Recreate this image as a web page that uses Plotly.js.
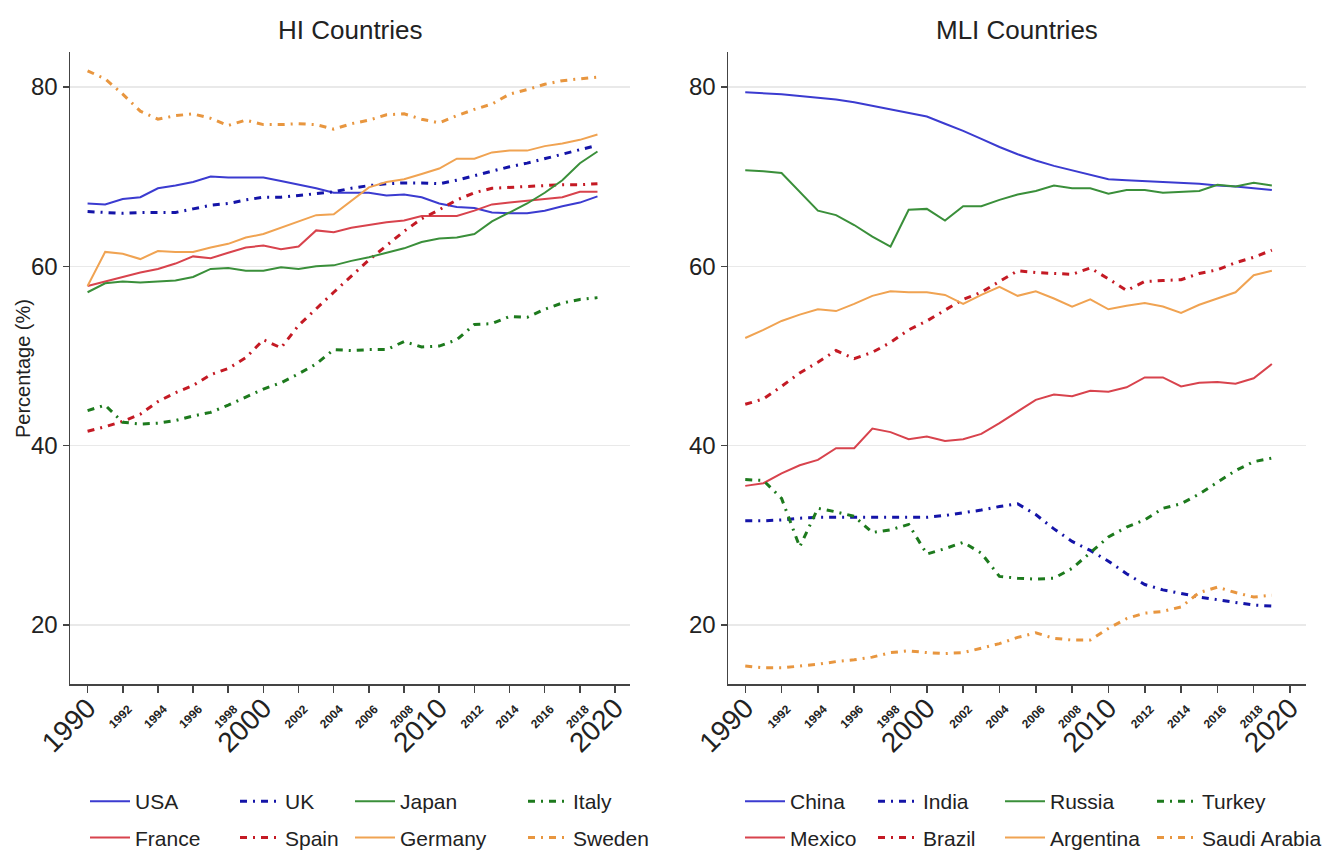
<!DOCTYPE html>
<html>
<head>
<meta charset="utf-8">
<script src="https://cdn.plot.ly/plotly-3.0.1.min.js"></script>
<style>html,body{margin:0;padding:0;background:#fff;}#chart{width:1324px;height:850px;}</style>
</head>
<body>
<div id="chart"></div>
<script>
// ---------- data ----------
const years = [1990,1991,1992,1993,1994,1995,1996,1997,1998,1999,2000,2001,2002,2003,2004,2005,2006,2007,2008,2009,2010,2011,2012,2013,2014,2015,2016,2017,2018,2019];

// HI countries
const usa     = [67.0,66.9,67.5,67.7,68.7,69.0,69.4,70.0,69.9,69.9,69.9,69.5,69.1,68.7,68.2,68.2,68.2,67.9,68.0,67.7,67.0,66.6,66.5,66.0,65.9,65.9,66.2,66.7,67.1,67.8];
const uk      = [66.1,66.0,65.9,66.0,66.0,66.0,66.4,66.8,67.0,67.4,67.7,67.7,67.9,68.1,68.3,68.7,69.0,69.2,69.3,69.3,69.2,69.6,70.1,70.6,71.1,71.5,72.0,72.5,73.0,73.5];
const japan   = [57.1,58.1,58.3,58.2,58.3,58.4,58.8,59.7,59.8,59.5,59.5,59.9,59.7,60.0,60.1,60.6,61.0,61.5,62.0,62.7,63.1,63.2,63.6,65.0,66.0,67.0,68.2,69.6,71.5,72.8];
const italy   = [43.9,44.5,42.6,42.4,42.5,42.8,43.3,43.7,44.5,45.4,46.3,47.0,48.0,49.1,50.7,50.6,50.7,50.7,51.6,51.0,51.1,51.8,53.5,53.6,54.4,54.3,55.2,55.9,56.3,56.5];
const france  = [57.8,58.3,58.8,59.3,59.7,60.3,61.1,60.9,61.5,62.1,62.3,61.9,62.2,64.0,63.8,64.3,64.6,64.9,65.1,65.6,65.6,65.6,66.2,66.9,67.1,67.3,67.5,67.7,68.3,68.3];
const spain   = [41.6,42.1,42.7,43.5,44.9,45.9,46.7,47.9,48.6,49.8,51.8,50.9,53.4,55.3,57.1,58.9,60.7,62.3,63.9,65.3,66.3,67.4,68.2,68.7,68.8,68.9,69.0,69.1,69.1,69.2];
const germany = [57.8,61.6,61.4,60.8,61.7,61.6,61.6,62.1,62.5,63.2,63.6,64.3,65.0,65.7,65.8,67.3,68.8,69.4,69.7,70.3,70.9,72.0,72.0,72.7,72.9,72.9,73.4,73.7,74.1,74.7];
const sweden  = [81.8,80.9,79.2,77.3,76.4,76.8,77.0,76.5,75.7,76.3,75.8,75.8,75.9,75.8,75.3,75.9,76.3,76.9,77.0,76.4,76.0,76.8,77.5,78.1,79.2,79.7,80.3,80.7,80.9,81.1];

// MLI countries
const china     = [79.4,79.3,79.2,79.0,78.8,78.6,78.3,77.9,77.5,77.1,76.7,75.9,75.1,74.2,73.3,72.5,71.8,71.2,70.7,70.2,69.7,69.6,69.5,69.4,69.3,69.2,69.0,68.9,68.7,68.5];
const india     = [31.6,31.6,31.7,31.9,32.0,32.0,32.0,32.0,32.0,32.0,32.0,32.2,32.5,32.8,33.2,33.5,32.3,30.7,29.3,28.3,27.1,25.7,24.5,23.9,23.5,23.1,22.8,22.5,22.2,22.1];
const russia    = [70.7,70.6,70.4,68.3,66.2,65.7,64.6,63.3,62.2,66.3,66.4,65.1,66.7,66.7,67.4,68.0,68.4,69.0,68.7,68.7,68.1,68.5,68.5,68.2,68.3,68.4,69.1,68.9,69.3,69.0];
const turkey    = [36.2,36.1,34.1,28.7,33.0,32.6,32.1,30.3,30.6,31.2,27.9,28.5,29.2,28.0,25.4,25.2,25.1,25.2,26.3,28.0,29.8,30.9,31.7,33.0,33.5,34.6,35.9,37.2,38.2,38.6];
const mexico    = [35.5,35.8,36.9,37.8,38.4,39.7,39.7,41.9,41.5,40.7,41.0,40.5,40.7,41.3,42.5,43.8,45.1,45.7,45.5,46.1,46.0,46.5,47.6,47.6,46.6,47.0,47.1,46.9,47.5,49.1];
const brazil    = [44.6,45.2,46.6,48.1,49.3,50.6,49.7,50.4,51.5,52.9,53.9,55.1,56.3,57.1,58.3,59.5,59.3,59.2,59.1,59.8,58.6,57.3,58.3,58.4,58.5,59.2,59.6,60.4,61.0,61.8];
const argentina = [52.0,52.9,53.9,54.6,55.2,55.0,55.8,56.7,57.2,57.1,57.1,56.8,55.8,56.8,57.7,56.7,57.2,56.4,55.5,56.3,55.2,55.6,55.9,55.5,54.8,55.7,56.4,57.1,59.0,59.5];
const saudi     = [15.4,15.2,15.2,15.4,15.6,15.9,16.1,16.4,16.9,17.1,16.9,16.8,16.9,17.4,17.9,18.6,19.1,18.5,18.3,18.3,19.6,20.7,21.3,21.5,22.0,23.6,24.2,23.6,23.1,23.3];

const xTickVals = [1990,1992,1994,1996,1998,2000,2002,2004,2006,2008,2010,2012,2014,2016,2018,2020];
const yTickVals = [20,40,60,80];
const titles = ['HI Countries','MLI Countries'];
const yTitle = 'Percentage (%)';

// ---------- styling ----------
const FONT = 'Liberation Sans, Arial, sans-serif';
const DASHDOT = '7px,6px,2px,6px';
const C = {
  blue:'#3b3bd0', navy:'#1414a8', green:'#3a8f3a', dgreen:'#1d7a1d',
  red:'#d8434d', dred:'#c41a24', orange:'#f0a352', dorange:'#e8963f'
};

function tr(name, y, axis, color, dashed, legendId, group){
  return {
    x: years, y: y, name: name, type:'scatter', mode:'lines',
    xaxis: axis[0], yaxis: axis[1],
    line: {color: color, width: dashed ? 3 : 2, dash: dashed ? DASHDOT : 'solid'},
    legend: legendId, legendgroup: group
  };
}
const L = ['x','y'], R = ['x2','y2'];
const data = [
  tr('USA', usa, L, C.blue, false, 'legend', 'a1'),
  tr('France', france, L, C.red, false, 'legend', 'a2'),
  tr('UK', uk, L, C.navy, true, 'legend2', 'b1'),
  tr('Spain', spain, L, C.dred, true, 'legend2', 'b2'),
  tr('Japan', japan, L, C.green, false, 'legend3', 'c1'),
  tr('Germany', germany, L, C.orange, false, 'legend3', 'c2'),
  tr('Italy', italy, L, C.dgreen, true, 'legend4', 'd1'),
  tr('Sweden', sweden, L, C.dorange, true, 'legend4', 'd2'),
  tr('China', china, R, C.blue, false, 'legend5', 'e1'),
  tr('Mexico', mexico, R, C.red, false, 'legend5', 'e2'),
  tr('India', india, R, C.navy, true, 'legend6', 'f1'),
  tr('Brazil', brazil, R, C.dred, true, 'legend6', 'f2'),
  tr('Russia', russia, R, C.green, false, 'legend7', 'g1'),
  tr('Argentina', argentina, R, C.orange, false, 'legend7', 'g2'),
  tr('Turkey', turkey, R, C.dgreen, true, 'legend8', 'h1'),
  tr('Saudi Arabia', saudi, R, C.dorange, true, 'legend8', 'h2')
];

const W = 1324, H = 850;
const PLOT_TOP = 52, PLOT_BOTTOM = 684;
const xText = xTickVals.map(v => (v % 10 === 0) ? String(v) : '<b style="font-size:12px">' + v + '</b>');

function xax(domain, range){
  return {
    domain: domain, range: range, tickvals: xTickVals, ticktext: xText, tickangle: -45,
    ticks:'outside', ticklen:7, tickwidth:1.5, tickcolor:'#444', automargin:false,
    ticklabelstandoff:-12,
    showline:true, linecolor:'#444', linewidth:1.5, showgrid:false, zeroline:false,
    tickfont:{family:FONT, size:28, color:'#222'}, fixedrange:true
  };
}
function yax(anchor){
  return {
    domain:[(H-PLOT_BOTTOM)/H, (H-PLOT_TOP)/H], range:[13.4,83.9], tickvals:yTickVals, anchor:anchor,
    ticks:'outside', ticklen:6, tickwidth:1.5, tickcolor:'#444', automargin:false,
    showline:true, linecolor:'#444', linewidth:1.5,
    showgrid:true, gridcolor:'#e9e9e9', gridwidth:1.5, zeroline:false,
    tickfont:{family:FONT, size:24, color:'#222'}, fixedrange:true
  };
}

function leg(px, py){
  return {
    x: px/W, y: 1 - py/H, xref:'container', yref:'container', xanchor:'left', yanchor:'top',
    orientation:'v', traceorder:'grouped', tracegroupgap:6, bgcolor:'rgba(0,0,0,0)',
    itemwidth:40, font:{family:FONT, size:21, color:'#222'}
  };
}

const LY = 781;
const layout = {
  width: W, height: H,
  margin:{l:0, r:0, t:0, b:0, autoexpand:false},
  paper_bgcolor:'#fff', plot_bgcolor:'#fff',
  showlegend:true,
  xaxis: Object.assign(xax([70/W, 630/W], [1989.0, 2020.85]), {anchor:'y'}),
  yaxis: yax('x'),
  xaxis2: Object.assign(xax([728/W, 1306/W], [1989.05, 2020.88]), {anchor:'y2'}),
  yaxis2: yax('x2'),
  legend: leg(85, LY),
  legend2: leg(235, LY),
  legend3: leg(350, LY),
  legend4: leg(523, LY),
  legend5: leg(740, LY),
  legend6: leg(873, LY),
  legend7: leg(1000, LY),
  legend8: leg(1152, LY),
  annotations: [
    {text: titles[0], x:(70+630)/2/W, y:1-30/H, xref:'paper', yref:'paper', showarrow:false,
     font:{family:FONT, size:26, color:'#222'}, xanchor:'center', yanchor:'middle'},
    {text: titles[1], x:(728+1306)/2/W, y:1-30/H, xref:'paper', yref:'paper', showarrow:false,
     font:{family:FONT, size:26, color:'#222'}, xanchor:'center', yanchor:'middle'},
    {text: yTitle, x:23/W, y:1-369/H, xref:'paper', yref:'paper', showarrow:false, textangle:-90,
     font:{family:FONT, size:20, color:'#222'}, xanchor:'center', yanchor:'middle'}
  ]
};

Plotly.newPlot('chart', data, layout, {staticPlot:true, displayModeBar:false});
</script>
</body>
</html>
